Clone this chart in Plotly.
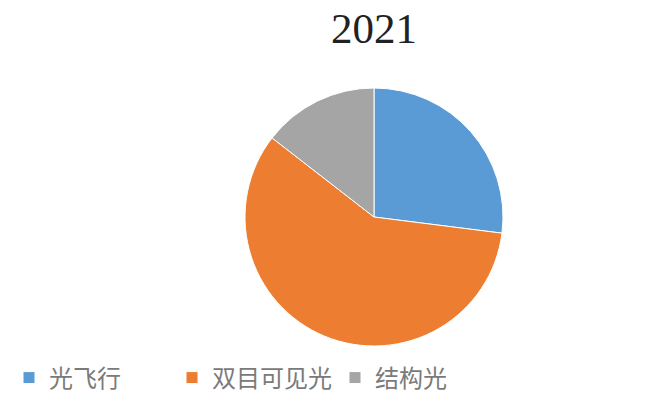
import plotly.graph_objects as go

# Share of depth-sensing approaches, 2021
labels = ["光飞行", "双目可见光", "结构光"]
shares = [27.0, 58.5, 14.5]
colors = ["#5B9BD5", "#ED7D31", "#A5A5A5"]
title_text = "2021"

W, H = 657, 419
cx, cy, r = 374, 217, 129

fig = go.Figure(
    go.Pie(
        labels=labels,
        values=shares,
        sort=False,
        direction="clockwise",
        rotation=0,
        textinfo="none",
        hoverinfo="label+percent",
        marker=dict(colors=colors, line=dict(color="#FFFFFF", width=1)),
        domain=dict(
            x=[(cx - r) / W, (cx + r) / W],
            y=[1 - (cy + r) / H, 1 - (cy - r) / H],
        ),
    )
)

fig.add_annotation(
    text=title_text,
    xref="paper", yref="paper",
    x=cx / W, y=1 - 28 / H,
    xanchor="center", yanchor="middle",
    showarrow=False,
    font=dict(family="Liberation Serif, DejaVu Serif, serif", size=43, color="#222222"),
)

fig.update_layout(
    width=W, height=H,
    margin=dict(l=0, r=0, t=0, b=0, autoexpand=False),
    paper_bgcolor="#FFFFFF",
    plot_bgcolor="#FFFFFF",
    showlegend=True,
    legend=dict(
        orientation="h",
        xref="paper", yref="paper",
        x=9 / W, y=1 - 378 / H,
        xanchor="left", yanchor="middle",
        entrywidth=118, entrywidthmode="pixels",
        font=dict(family="Noto Sans CJK SC, sans-serif", size=24, color="#7A7A7A"),
        bgcolor="rgba(0,0,0,0)",
    ),
)

fig.write_html("out.html")
